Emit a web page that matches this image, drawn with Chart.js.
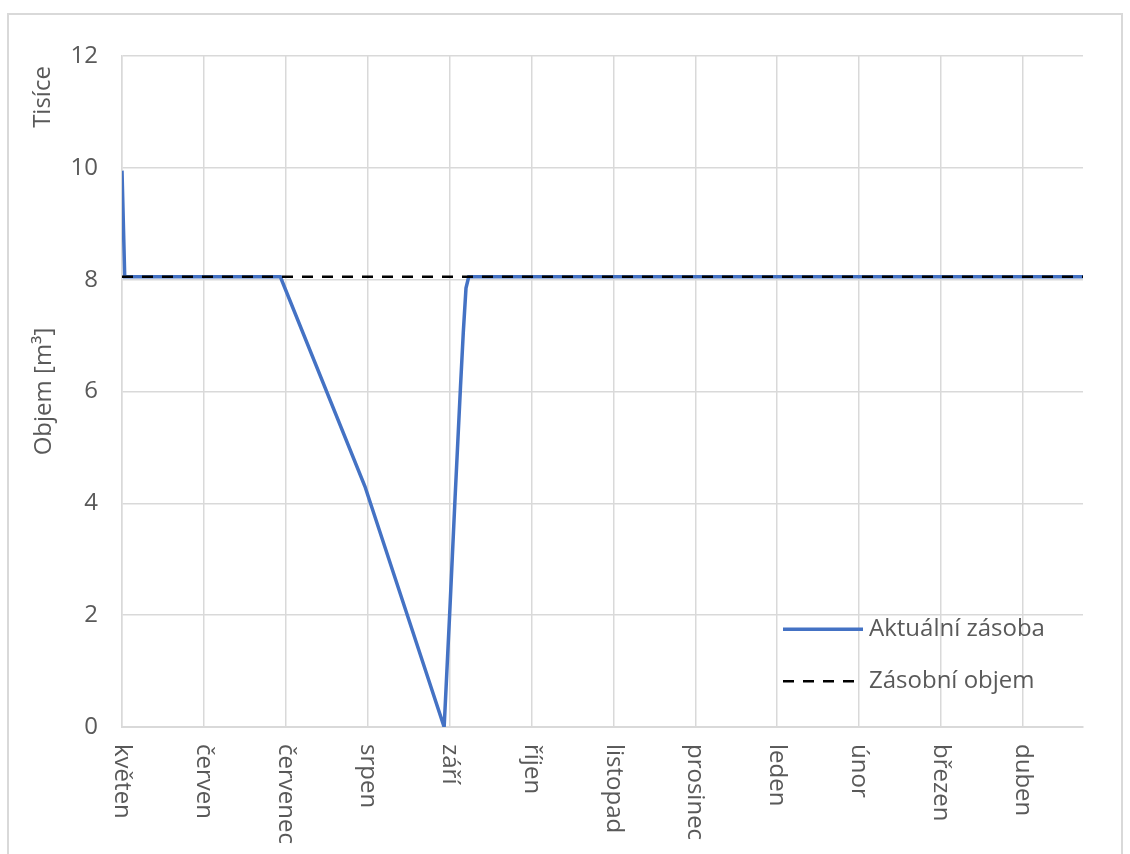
<!DOCTYPE html>
<html>
<head>
<meta charset="utf-8">
<title>Objem zásoby</title>
<script src="https://cdn.jsdelivr.net/npm/chart.js@4/dist/chart.umd.min.js"></script>
<style>
  html, body { margin: 0; padding: 0; background: #ffffff; }
  canvas { display: block; }
</style>
</head>
<body>
<canvas id="chart" width="1130" height="854"></canvas>
<script>
// Month labels on the horizontal axis and the day index where each one sits
const monthLabels = ['květen', 'červen', 'červenec', 'srpen', 'září', 'říjen',
                     'listopad', 'prosinec', 'leden', 'únor', 'březen', 'duben'];
const monthStartDays = [0, 30, 60, 90, 120, 150, 180, 210, 240, 270, 300, 330];
const lastDay = 352;

// Current stock (thousands of m³) at the given day indices
const stockDays   = [0,    1,    58,   89,  118, 119, 120, 121,  122, 123, 124, 125,  126,  127,  352];
const stockValues = [9.95, 8.05, 8.05, 4.3, 0,   1.0, 2.0, 3.05, 4.1, 5.1, 6.1, 7.05, 7.85, 8.05, 8.05];

// Storage volume (thousands of m³)
const capacityDays   = [0, 352];
const capacityValues = [8.05, 8.05];

// Vertical axis ticks
const yTicks = [0, 2, 4, 6, 8, 10, 12];

const FONT = '"Open Sans", "DejaVu Sans", sans-serif';
const FONT_SIZE = 24;
const TEXT = '#595959';
const GRID = '#d9d9d9';

const toPoints = (xs, ys) => xs.map((x, i) => ({ x: x, y: ys[i] }));

// Frame around the whole chart
const framePlugin = {
  id: 'frame',
  beforeDraw(chart) {
    const ctx = chart.ctx;
    ctx.save();
    ctx.fillStyle = '#ffffff';
    ctx.fillRect(0, 0, chart.width, chart.height);
    ctx.strokeStyle = GRID;
    ctx.lineWidth = 2;
    ctx.strokeRect(8, 14, 1114, 900);
    ctx.restore();
  }
};

// Rotated month names, unit label, axis title and the inside legend
const labelsPlugin = {
  id: 'labels',
  afterDraw(chart) {
    const ctx = chart.ctx;
    const xs = chart.scales.x;
    const ys = chart.scales.y;
    const area = chart.chartArea;
    ctx.save();
    ctx.fillStyle = TEXT;
    ctx.font = FONT_SIZE + 'px ' + FONT;

    // month names, reading top to bottom
    monthStartDays.forEach((d, i) => {
      const px = xs.getPixelForValue(d);
      ctx.save();
      ctx.translate(px, area.bottom + 17);
      ctx.rotate(Math.PI / 2);
      ctx.textAlign = 'left';
      ctx.textBaseline = 'middle';
      ctx.fillText(monthLabels[i], 0, 0);
      ctx.restore();
    });

    // display-unit label and axis title, reading bottom to top
    const vertical = (text, x, y) => {
      ctx.save();
      ctx.translate(x, y);
      ctx.rotate(-Math.PI / 2);
      ctx.textAlign = 'center';
      ctx.textBaseline = 'middle';
      ctx.fillText(text, 0, 0);
      ctx.restore();
    };
    vertical('Tisíce', 43, 97);
    vertical('Objem [m³]', 44, (ys.top + ys.bottom) / 2);

    // legend
    const ds = chart.data.datasets;
    const rows = [
      { d: ds[0], y: ys.getPixelForValue(1.75), x1: 783, x2: 863 },
      { d: ds[1], y: ys.getPixelForValue(0.82), x1: 783, x2: 858 }
    ];
    rows.forEach(r => {
      ctx.save();
      ctx.strokeStyle = r.d.borderColor;
      ctx.lineWidth = r.d.borderWidth;
      ctx.setLineDash(r.d.borderDash || []);
      ctx.beginPath();
      ctx.moveTo(r.x1, r.y);
      ctx.lineTo(r.x2, r.y);
      ctx.stroke();
      ctx.restore();
      ctx.textAlign = 'left';
      ctx.textBaseline = 'middle';
      ctx.fillText(r.d.label, 869, r.y);
    });
    ctx.restore();
  }
};

new Chart(document.getElementById('chart'), {
  type: 'line',
  data: {
    datasets: [
      {
        label: 'Aktuální zásoba',
        data: toPoints(stockDays, stockValues),
        borderColor: '#4472c4',
        borderWidth: 3.5,
        pointRadius: 0,
        tension: 0,
        fill: false,
        order: 2
      },
      {
        label: 'Zásobní objem',
        data: toPoints(capacityDays, capacityValues),
        borderColor: '#000000',
        borderWidth: 2.5,
        borderDash: [11, 9],
        pointRadius: 0,
        fill: false,
        order: 1
      }
    ]
  },
  options: {
    responsive: false,
    animation: false,
    layout: { padding: { left: 0, top: 56, right: 47, bottom: 0 } },
    plugins: {
      legend: { display: false },
      tooltip: { enabled: false }
    },
    scales: {
      x: {
        type: 'linear',
        min: 0,
        max: lastDay,
        afterBuildTicks: scale => { scale.ticks = monthStartDays.map(v => ({ value: v })); },
        afterFit: scale => { scale.height = 127; },
        ticks: { display: false },
        grid: { color: GRID, lineWidth: 1.5, drawTicks: false },
        border: { color: GRID, width: 2 }
      },
      y: {
        min: 0,
        max: 12,
        afterBuildTicks: scale => { scale.ticks = yTicks.map(v => ({ value: v })); },
        afterFit: scale => { scale.width = 122; },
        ticks: {
          color: TEXT,
          font: { family: FONT, size: FONT_SIZE },
          padding: 24
        },
        grid: { color: GRID, lineWidth: 1.5, drawTicks: false },
        border: { color: GRID, width: 1.5 }
      }
    }
  },
  plugins: [framePlugin, labelsPlugin]
});
</script>
</body>
</html>
